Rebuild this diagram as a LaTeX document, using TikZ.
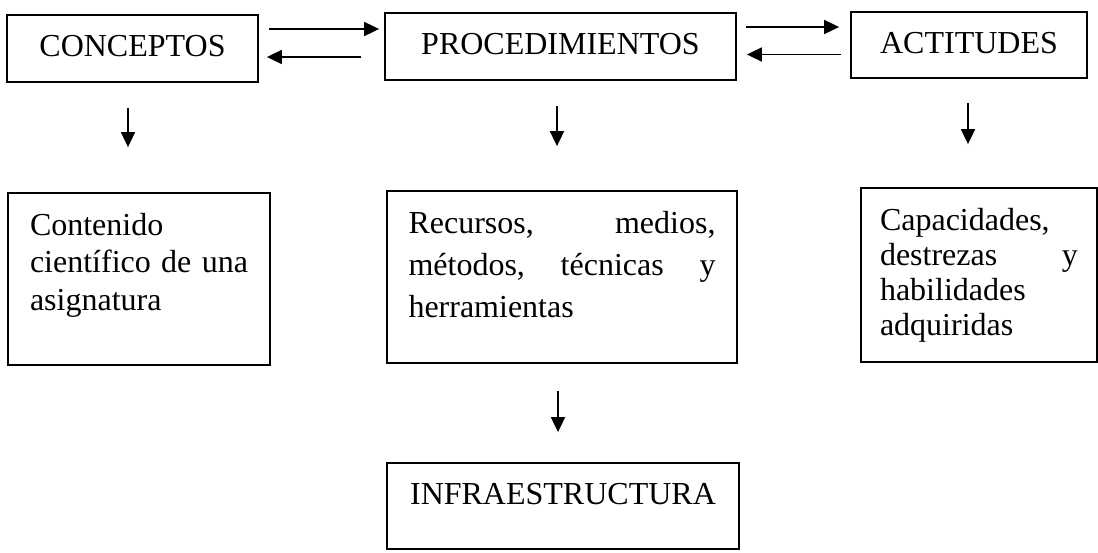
\documentclass[tikz,border=0pt]{standalone}
\usepackage{fontspec}
\setmainfont{Liberation Serif}
\usetikzlibrary{arrows.meta}

\newcommand{\boxtext}[4]{\parbox[t][#1][t]{#2}{\baselineskip=#3 #4}}

\begin{document}
\begin{tikzpicture}[x=0.5pt,y=-0.5pt,
    box/.style={draw=black, line width=0.9pt, inner xsep=0pt, inner ysep=10pt, font=\fontsize{16}{19}\selectfont},
    head/.style={box, inner ysep=0pt, text height=11.2pt, text depth=3.2pt, minimum height=33.5pt},
    arr/.style={draw=black, line width=0.9pt, -{Triangle[length=7.5pt,width=7pt]}}]
    \useasboundingbox (0,0) rectangle (1098,552);
    \node [head, minimum width=125.5pt] (conc) at (132.5,48.5) {CONCEPTOS};
    \node [head, minimum width=175.5pt] (proc) at (560.5,46.5) {PROCEDIMIENTOS};
    \node [head, minimum width=118pt, minimum height=33pt] (acti) at (969,45) {ACTITUDES};
    \node [box, minimum width=131pt, minimum height=86pt] (cont) at (139,279)
        {\boxtext{66pt}{109pt}{18.75pt}{Contenido\\científico\hfill de\hfill una\\asignatura}};
    \node [box, minimum width=175pt, minimum height=86pt] (recu) at (562,277)
        {\boxtext{66pt}{153.5pt}{21pt}{Recursos,\hfill medios,\\métodos,\hfill técnicas\hfill y\\herramientas}};
    \node [box, minimum width=118pt, minimum height=87pt] (capa) at (979,275)
        {\boxtext{67pt}{99pt}{17.5pt}{Capacidades,\\destrezas\hfill y\\habilidades\\adquiridas}};
    \node [box, minimum width=176pt, minimum height=43pt] (infra) at (563,506)
        {\boxtext{23pt}{176pt}{19pt}{\centering INFRAESTRUCTURA}};
    % horizontal pairs
    \draw [arr] ([shift={(10,-19.5)}]conc.east) -- ([shift={(-5,-17.5)}]proc.west);
    \draw [arr] ([shift={(-23,10.5)}]proc.west) -- ([shift={(8,8.5)}]conc.east);
    \draw [arr] ([shift={(9,-19.5)}]proc.east) -- ([shift={(-11,-18)}]acti.west);
    \draw [arr] ([shift={(-9,9.5)}]acti.west) -- ([shift={(10,8)}]proc.east);
    % downward
    \draw [arr] ([shift={(-4.5,25)}]conc.south) -- ([shift={(-11,-45)}]cont.north);
    \draw [arr] ([shift={(-3.5,25)}]proc.south) -- ([shift={(-5,-44)}]recu.north);
    \draw [arr] ([shift={(-1,24)}]acti.south) -- ([shift={(-11,-43)}]capa.north);
    \draw [arr] ([shift={(-4,27)}]recu.south) -- ([shift={(-5,-30)}]infra.north);
\end{tikzpicture}
\end{document}
